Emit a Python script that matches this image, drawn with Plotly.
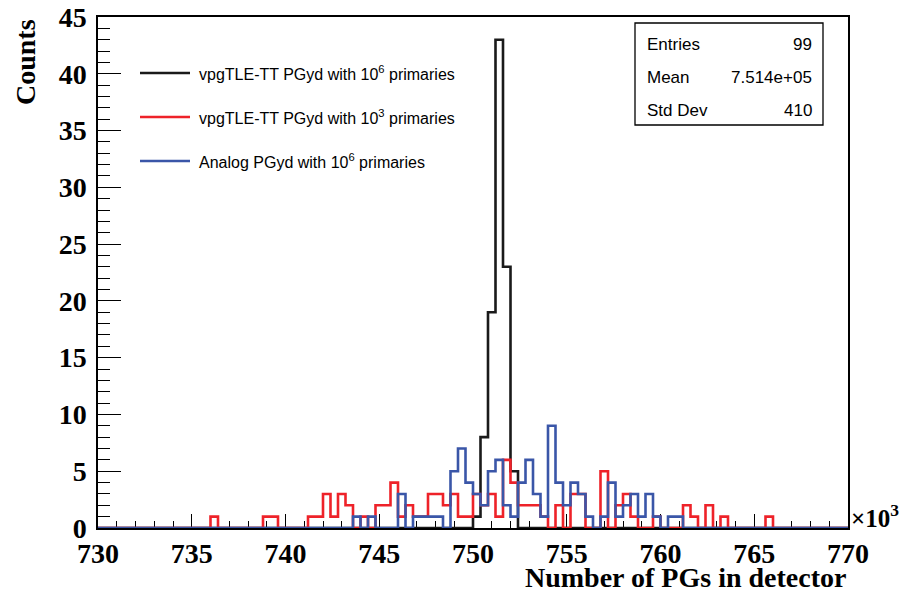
import plotly.graph_objects as go

# ---------------- data ----------------
x_min = 730.0          # x axis in units of 10^3
x_max = 770.0
bin_width = 0.4        # 100 bins

black_counts = [
    0, 0, 0, 0, 0, 0, 0, 0, 0, 0, 0, 0, 0, 0, 0, 0, 0, 0, 0, 0,
    0, 0, 0, 0, 0, 0, 0, 0, 0, 0, 0, 0, 0, 0, 0, 0, 0, 0, 0, 0,
    0, 0, 0, 0, 0, 0, 0, 0, 0, 0, 1, 8, 19, 43, 23, 5, 0, 0, 0, 0,
    0, 0, 0, 0, 0, 0, 0, 0, 0, 0, 0, 0, 0, 0, 0, 0, 0, 0, 0, 0,
    0, 0, 0, 0, 0, 0, 0, 0, 0, 0, 0, 0, 0, 0, 0, 0, 0, 0, 0, 0,
]
red_counts = [
    0, 0, 0, 0, 0, 0, 0, 0, 0, 0, 0, 0, 0, 0, 0, 1, 0, 0, 0, 0,
    0, 0, 1, 1, 0, 0, 0, 0, 1, 1, 3, 1, 3, 2, 0, 1, 0, 2, 2, 4,
    1, 2, 1, 1, 3, 3, 2, 3, 1, 1, 3, 2, 3, 1, 6, 4, 2, 2, 2, 1,
    0, 2, 0, 3, 3, 0, 0, 5, 0, 2, 3, 1, 0, 0, 1, 0, 0, 0, 2, 1,
    0, 2, 0, 1, 0, 0, 0, 0, 0, 1, 0, 0, 0, 0, 0, 0, 0, 0, 0, 0,
]
blue_counts = [
    0, 0, 0, 0, 0, 0, 0, 0, 0, 0, 0, 0, 0, 0, 0, 0, 0, 0, 0, 0,
    0, 0, 0, 0, 0, 0, 0, 0, 0, 0, 0, 0, 0, 0, 1, 0, 1, 0, 0, 0,
    3, 0, 1, 1, 1, 1, 0, 5, 7, 4, 3, 2, 5, 6, 2, 1, 4, 6, 3, 1,
    9, 4, 2, 4, 3, 1, 0, 1, 4, 1, 2, 3, 1, 3, 1, 0, 1, 1, 0, 0,
    0, 0, 0, 0, 0, 0, 0, 0, 0, 0, 0, 0, 0, 0, 0, 0, 0, 0, 0, 0,
]

series_names = [
    "vpgTLE-TT PGyd with 10<sup>6</sup> primaries",
    "vpgTLE-TT PGyd with 10<sup>3</sup> primaries",
    "Analog PGyd with 10<sup>6</sup> primaries",
]
series_colors = ["#1a1a1a", "#ee2229", "#3a56a8"]

x_ticks = [730, 735, 740, 745, 750, 755, 760, 765, 770]
y_ticks = [0, 5, 10, 15, 20, 25, 30, 35, 40, 45]

stats_labels = ["Entries", "Mean", "Std Dev"]
stats_values = ["99", "7.514e+05", "410"]

# ---------------- layout geometry (screen pixels of the reference) ----------------
W, H = 907, 594
OFF = 8                     # page body margin shifts the figure by 8 px
FRAME_L, FRAME_R, FRAME_T, FRAME_B = 98, 848, 17, 528
ML = FRAME_L - OFF
MT = FRAME_T - OFF
MR = W - (FRAME_R - OFF)
MB = H - (FRAME_B - OFF)
PW = FRAME_R - FRAME_L
PH = FRAME_B - FRAME_T


def px_x(px):
    return (px - FRAME_L) / PW


def px_y(py):
    return (FRAME_B - py) / PH


n_bins = len(black_counts)
edges = [x_min + bin_width * i for i in range(n_bins + 1)]

fig = go.Figure()
for counts, name, color in zip([black_counts, red_counts, blue_counts],
                               series_names, series_colors):
    fig.add_trace(go.Scatter(
        x=edges, y=counts + [counts[-1]], mode="lines", name=name,
        line=dict(color=color, width=2.6, shape="hv"),
        showlegend=False, hoverinfo="skip"))

serif_bold = dict(family="Liberation Serif, Times New Roman, serif", size=28,
                  color="black", weight="bold")
sans = dict(family="Liberation Sans, Arial, Helvetica, sans-serif", size=16,
            color="black")

fig.update_xaxes(
    range=[x_min, x_max], tickvals=x_ticks, ticktext=[str(v) for v in x_ticks],
    ticks="inside", ticklen=14, tickwidth=1.3, tickcolor="black",
    minor=dict(ticks="inside", dtick=1, ticklen=7, tickwidth=1.1, tickcolor="black"),
    showline=True, linecolor="black", linewidth=1.5, mirror=True,
    showgrid=False, zeroline=False, tickfont=serif_bold, layer="below traces",
    ticklabelstandoff=0, automargin=False, ticklabeloverflow="allow")
fig.update_yaxes(
    range=[0, 45], tickvals=y_ticks, ticktext=[str(v) for v in y_ticks],
    ticks="inside", ticklen=23, tickwidth=1.3, tickcolor="black",
    minor=dict(ticks="inside", dtick=1, ticklen=12, tickwidth=1.1, tickcolor="black"),
    showline=True, linecolor="black", linewidth=1.5, mirror=True,
    showgrid=False, zeroline=False, tickfont=serif_bold, layer="below traces",
    ticklabelstandoff=4, automargin=False, ticklabeloverflow="allow")

annotations = []
shapes = []

# axis titles
annotations.append(dict(text="Number of PGs in detector", x=1.0, y=px_y(578),
                        xref="paper", yref="paper", xanchor="right", yanchor="middle",
                        showarrow=False, font=serif_bold))
annotations.append(dict(text="Counts", x=px_x(25), y=px_y(62), textangle=-90,
                        xref="paper", yref="paper", xanchor="center", yanchor="middle",
                        showarrow=False, font=serif_bold))
annotations.append(dict(text="×10<sup>3</sup>", x=px_x(849), y=px_y(516),
                        xref="paper", yref="paper", xanchor="left", yanchor="middle",
                        showarrow=False,
                        font=dict(family="Liberation Serif, Times New Roman, serif",
                                  size=25, color="black", weight="bold")))

# legend (drawn like ROOT's TLegend without border)
leg_y = [73, 117, 161]
for name, color, yy in zip(series_names, series_colors, leg_y):
    shapes.append(dict(type="line", xref="paper", yref="paper",
                       x0=px_x(140), x1=px_x(190), y0=px_y(yy), y1=px_y(yy),
                       line=dict(color=color, width=2.6)))
    annotations.append(dict(text=name, x=px_x(197), y=px_y(yy), xref="paper", yref="paper",
                            xanchor="left", yanchor="middle", showarrow=False, font=sans))

# stats box
shapes.append(dict(type="rect", xref="paper", yref="paper",
                   x0=px_x(635), x1=px_x(823), y0=px_y(23), y1=px_y(125),
                   line=dict(color="black", width=1.3), fillcolor="white", layer="above"))
stat_y = [44, 77, 110]
stat_font = dict(family="Liberation Sans, Arial, Helvetica, sans-serif", size=17, color="black")
for lab, val, yy in zip(stats_labels, stats_values, stat_y):
    annotations.append(dict(text=lab, x=px_x(645), y=px_y(yy), xref="paper", yref="paper",
                            xanchor="left", yanchor="middle", showarrow=False, font=stat_font))
    annotations.append(dict(text=val, x=px_x(814), y=px_y(yy), xref="paper", yref="paper",
                            xanchor="right", yanchor="middle", showarrow=False, font=stat_font))

fig.update_layout(
    width=W, height=H,
    margin=dict(l=ML, r=MR, t=MT, b=MB, pad=0, autoexpand=False),
    paper_bgcolor="white", plot_bgcolor="white",
    showlegend=False,
    annotations=annotations, shapes=shapes,
)

fig.write_html("out.html")
